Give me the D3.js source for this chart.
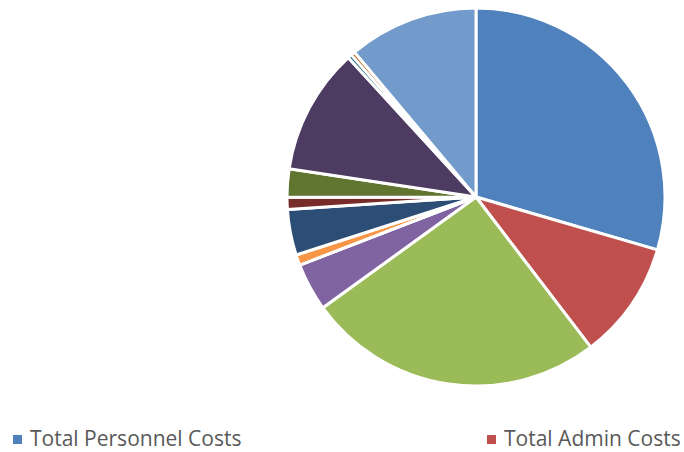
<!DOCTYPE html>
<html lang="en">
<head>
<meta charset="utf-8" />
<script src="https://cdn.jsdelivr.net/npm/d3@7/dist/d3.min.js"></script>
<style>
body { margin: 0; background: #fff; }
svg { display: block; }
.legend text { font: 21px "Open Sans", sans-serif; fill: #595959; }
</style>
</head>
<body>
<svg class="pie" width="684" height="452"></svg>
<script>
// slice shares in percent, clockwise from 12 o'clock
var values = [29.5, 10.1, 25.4, 4.1, 0, 0.9, 3.9, 1.05, 2.4, 10.8, 0.35, 0.35, 11.1];
var colors = ["#4f81bd", "#c0504d", "#9bbb59", "#8064a2", "#4bacc6", "#f79646",
              "#2c4d75", "#772c2a", "#5f7530", "#4d3b62", "#276a7c", "#b65708", "#729aca"];
// only the first two legend entries fit in the picture
var legendLabels = ["Total Personnel Costs", "Total Admin Costs"];

var svg = d3.select("svg.pie"),
    cx = 476, cy = 197, radius = 189;

var pie = d3.pie().sort(null).value(function(d) { return d; });
var arc = d3.arc().innerRadius(0).outerRadius(radius);

var g = svg.append("g").attr("transform", "translate(" + cx + "," + cy + ")");

g.selectAll("path")
    .data(pie(values))
  .enter().append("path")
    .attr("d", arc)
    .attr("fill", function(d, i) { return colors[i]; })
    .attr("stroke", "#fff")
    .attr("stroke-width", 3)
    .attr("stroke-linejoin", "round");

var x = d3.scalePoint().domain(legendLabels).range([13, 487]);

var item = svg.append("g").attr("class", "legend")
  .selectAll("g")
    .data(legendLabels)
  .enter().append("g")
    .attr("transform", function(d) { return "translate(" + x(d) + ",435)"; });

item.append("rect")
    .attr("width", 9).attr("height", 9)
    .attr("fill", function(d, i) { return colors[i]; });

item.append("text")
    .attr("x", 17).attr("y", 11)
    .text(function(d) { return d; });
</script>
</body>
</html>
